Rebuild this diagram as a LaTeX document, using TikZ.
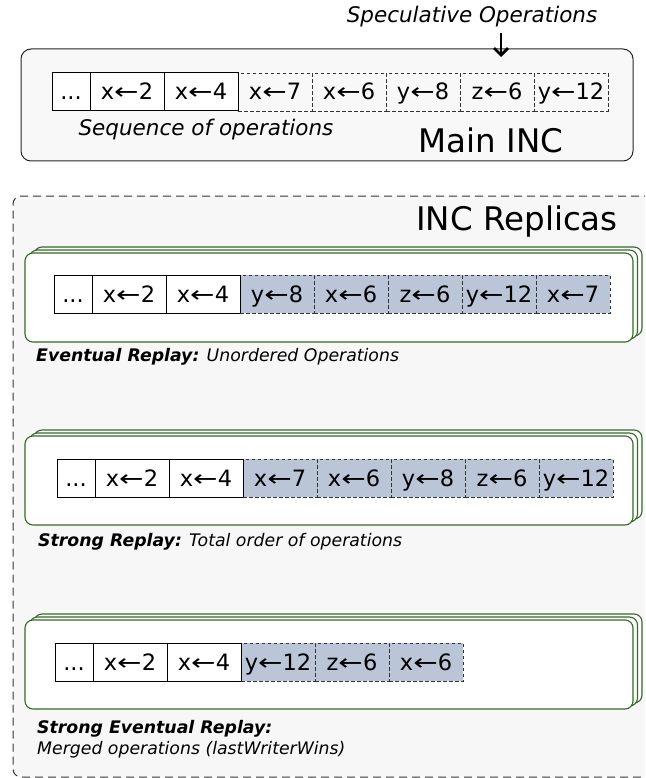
\documentclass[tikz,border=0pt]{standalone}
\usepackage{fontspec}
\setmainfont{DejaVu Sans}
\usepackage{graphicx}
\usetikzlibrary{arrows.meta}
\definecolor{repgreen}{RGB}{52,105,40}
\definecolor{specblue}{RGB}{186,197,216}
\definecolor{bgout}{RGB}{247,247,247}
\definecolor{bgmain}{RGB}{248,248,248}
\newcommand{\myarr}{\scalebox{1.3}[1]{←}}
\begin{document}
\begin{tikzpicture}[x=1pt,y=-1pt,
  cellbase/.style={minimum height=38pt, inner sep=0pt, outer sep=0pt, anchor=north west,
    font=\fontsize{22.5}{22.5}\selectfont, text height=16pt, text depth=0pt},
  dotcell/.style={cellbase, minimum width=38pt},
  opcell/.style={cellbase, minimum width=74pt},
  solidc/.style={draw=black, line width=1pt, fill=white},
  specc/.style={draw=black!80, line width=0.9pt, dash pattern=on 3.5pt off 2.5pt},
  specf/.style={specc, fill=specblue},
  sepline/.style={draw=black, line width=1pt},
  mainbox/.style={draw=black!85, line width=1pt, fill=bgmain, rounded corners=10pt,
    inner sep=0pt, outer sep=0pt, anchor=north west},
  outbox/.style={draw=black!80, line width=1pt, fill=bgout, rounded corners=8pt,
    dash pattern=on 8pt off 5pt, inner sep=0pt, outer sep=0pt, anchor=north west},
  repbox/.style={draw=repgreen, line width=1.1pt, fill=white, rounded corners=8pt,
    inner sep=0pt, outer sep=0pt, anchor=north west, minimum width=608pt, minimum height=89pt},
  lbl/.style={inner sep=0pt, font=\fontsize{21.5}{21.5}\selectfont\itshape},
  big/.style={inner sep=0pt, font=\fontsize{32.5}{32.5}\selectfont},
  replbl/.style={inner sep=0pt, anchor=west, font=\fontsize{17.3}{17.3}\selectfont},
  specarrow/.style={line width=1.6pt, shorten >=-8pt,
    -{Straight Barb[length=7pt,width=14pt,line width=2.8pt]}}
]
\useasboundingbox (0,0) rectangle (645,778);
\clip (0,0) rectangle (645,778);

% ---------- Main INC ----------
\node[mainbox, minimum width=612pt, minimum height=112pt] (main) at (21,49) {};
\node[lbl] (spec) at (472,17) {Speculative Operations};
\coordinate (arrs) at (501,33);
\draw[specarrow] (arrs) -- (arrs |- main.north);

\node[dotcell,solidc] (m0) at (52,73) {...};
\node[opcell,solidc] (m1) at (m0.north east) {x\myarr 2};
\node[opcell,solidc] (m2) at (m1.north east) {x\myarr 4};
\node[opcell,specc] (m3) at (m2.north east) {x\myarr 7};
\node[opcell,specc] (m4) at (m3.north east) {x\myarr 6};
\node[opcell,specc] (m5) at (m4.north east) {y\myarr 8};
\node[opcell,specc] (m6) at (m5.north east) {z\myarr 6};
\node[opcell,specc] (m7) at (m6.north east) {y\myarr 12};
\draw[sepline] (m2.north east) -- (m2.south east);

\node[lbl] (seq) at (206,130) {Sequence of operations};
\node[big] (mainlbl) at (491,140) {Main INC};

% ---------- INC Replicas ----------
\node[outbox, minimum width=660pt, minimum height=581pt] (reps) at (13,196) {};
\node[big, anchor=east] (replicas) at (618,222) {INC Replicas};

% Replica 1
\node[repbox] (r1b2) at (34,247) {};
\node[repbox] (r1b1) at (29.5,250) {};
\node[repbox] (r1) at (25,253) {};
\node[dotcell,solidc] (a0) at (54,275) {...};
\node[opcell,solidc] (a1) at (a0.north east) {x\myarr 2};
\node[opcell,solidc] (a2) at (a1.north east) {x\myarr 4};
\node[opcell,specf] (a3) at (a2.north east) {y\myarr 8};
\node[opcell,specf] (a4) at (a3.north east) {x\myarr 6};
\node[opcell,specf] (a5) at (a4.north east) {z\myarr 6};
\node[opcell,specf] (a6) at (a5.north east) {y\myarr 12};
\node[opcell,specf] (a7) at (a6.north east) {x\myarr 7};
\draw[sepline] (a2.north east) -- (a2.south east);
\node[replbl] (l1) at (36,357) {\textbf{\textit{Eventual Replay:}} \textit{Unordered Operations}};

% Replica 2
\node[repbox] (r2b2) at (34,430) {};
\node[repbox] (r2b1) at (29.5,433) {};
\node[repbox] (r2) at (25,436) {};
\node[dotcell,solidc] (b0) at (57,459) {...};
\node[opcell,solidc] (b1) at (b0.north east) {x\myarr 2};
\node[opcell,solidc] (b2) at (b1.north east) {x\myarr 4};
\node[opcell,specf] (b3) at (b2.north east) {x\myarr 7};
\node[opcell,specf] (b4) at (b3.north east) {x\myarr 6};
\node[opcell,specf] (b5) at (b4.north east) {y\myarr 8};
\node[opcell,specf] (b6) at (b5.north east) {z\myarr 6};
\node[opcell,specf] (b7) at (b6.north east) {y\myarr 12};
\draw[sepline] (b2.north east) -- (b2.south east);
\node[replbl] (l2) at (38,542) {\textbf{\textit{Strong Replay:}} \textit{Total order of operations}};

% Replica 3
\node[repbox] (r3b2) at (34,614) {};
\node[repbox] (r3b1) at (29.5,617) {};
\node[repbox] (r3) at (25,620) {};
\node[dotcell,solidc] (c0) at (55,643) {...};
\node[opcell,solidc] (c1) at (c0.north east) {x\myarr 2};
\node[opcell,solidc] (c2) at (c1.north east) {x\myarr 4};
\node[opcell,specf] (c3) at (c2.north east) {y\myarr 12};
\node[opcell,specf] (c4) at (c3.north east) {z\myarr 6};
\node[opcell,specf] (c5) at (c4.north east) {x\myarr 6};
\draw[sepline] (c2.north east) -- (c2.south east);
\node[replbl] (l3) at (37,729) {\textbf{\textit{Strong Eventual Replay:}}};
\node[replbl] (l4) at (37,750) {\textit{Merged operations (lastWriterWins)}};
\end{tikzpicture}
\end{document}
